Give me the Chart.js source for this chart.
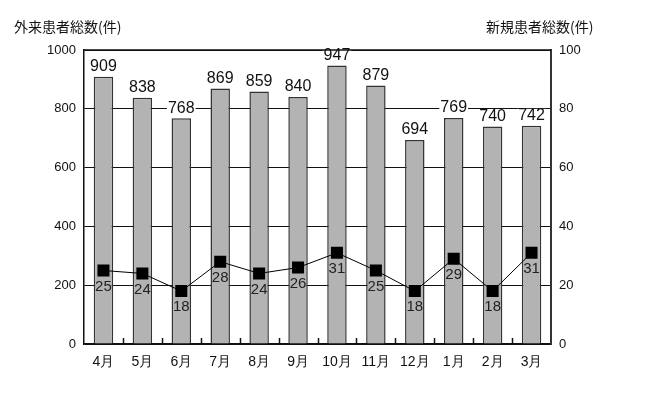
<!DOCTYPE html>
<html>
<head>
<meta charset="utf-8">
<script src="https://cdn.jsdelivr.net/npm/chart.js@4"></script>
<style>
  body { margin: 0; background: #fff; }
  #wrap { position: relative; width: 650px; height: 398px; }
  .ttl { position: absolute; top: 16px; font: 14px "Noto Sans CJK JP", sans-serif; color: #111; }
</style>
</head>
<body>
<div id="wrap">
  <div class="ttl" style="left:14px">外来患者総数(件)</div>
  <div class="ttl" style="left:486px">新規患者総数(件)</div>
  <canvas id="chart" width="650" height="398"></canvas>
</div>
<script>
// Monthly data
const months = ["4月", "5月", "6月", "7月", "8月", "9月", "10月", "11月", "12月", "1月", "2月", "3月"];
const outpatients = [909, 838, 768, 869, 859, 840, 947, 879, 694, 769, 740, 742];
const newPatients = [25, 24, 18, 28, 24, 26, 31, 25, 18, 29, 18, 31];
const leftTicks = [0, 200, 400, 600, 800, 1000];
const rightTicks = [0, 20, 40, 60, 80, 100];

const FONT = "'Liberation Sans Narrow', 'Liberation Sans', Arial, sans-serif";

// value labels + inward category ticks
const labelPlugin = {
  id: "labels",
  afterDatasetsDraw(chart) {
    const ctx = chart.ctx;
    const area = chart.chartArea;
    const xs = chart.scales.x;
    ctx.save();
    // small ticks between categories
    ctx.strokeStyle = "#111";
    ctx.lineWidth = 1.5;
    for (let i = 1; i < months.length; i++) {
      const x = Math.round((xs.getPixelForValue(i - 1) + xs.getPixelForValue(i)) / 2) + 0.5;
      ctx.beginPath();
      ctx.moveTo(x, area.bottom);
      ctx.lineTo(x, area.bottom - 6);
      ctx.stroke();
    }
    ctx.font = "16px " + FONT;
    ctx.textAlign = "center";
    ctx.textBaseline = "middle";
    chart.getDatasetMeta(1).data.forEach((bar, i) => {
      const txt = String(outpatients[i]);
      const w = ctx.measureText(txt).width;
      const y = bar.y - 10;
      ctx.fillStyle = "#fff";
      ctx.fillRect(bar.x - w / 2 - 1, y - 7, w + 2, 14);
      ctx.fillStyle = "#111";
      ctx.fillText(txt, bar.x, y);
    });
    ctx.font = "15px " + FONT;
    chart.getDatasetMeta(0).data.forEach((pt, i) => {
      ctx.fillStyle = "#222";
      ctx.fillText(String(newPatients[i]), pt.x, pt.y + 16);
    });
    ctx.restore();
  }
};

function initChart() {
  const ctx = document.getElementById("chart").getContext("2d");
  new Chart(ctx, {
    data: {
      labels: months,
      datasets: [
        {
          type: "line",
          data: newPatients,
          yAxisID: "y1",
          borderColor: "#000",
          borderWidth: 1,
          pointStyle: "rect",
          pointRadius: 8.5,
          pointBorderWidth: 0,
          pointBackgroundColor: "#000",
          pointBorderColor: "#000",
          order: 0
        },
        {
          type: "bar",
          data: outpatients,
          yAxisID: "y",
          backgroundColor: "#b3b3b3",
          borderColor: "#333",
          borderWidth: 1.5,
          barPercentage: 0.5,
          categoryPercentage: 1,
          order: 1
        }
      ]
    },
    options: {
      responsive: false,
      animation: false,
      layout: { padding: { top: 50, left: 0, right: 0, bottom: 0 } },
      plugins: { legend: { display: false }, tooltip: { enabled: false } },
      scales: {
        x: {
          grid: { display: false },
          border: { color: "#111", width: 1.5 },
          ticks: { color: "#111", font: { family: FONT, size: 14 }, padding: 2 },
          afterFit: s => { s.height = 54; }
        },
        y: {
          position: "left",
          min: 0, max: 1000,
          afterBuildTicks: s => { s.ticks = leftTicks.map(v => ({ value: v })); },
          grid: { color: "#111", lineWidth: 1, drawTicks: false },
          border: { color: "#111", width: 1.5 },
          ticks: { color: "#111", font: { family: FONT, size: 13 }, padding: 8, callback: v => String(v) },
          afterFit: s => { s.width = 84; }
        },
        y1: {
          position: "right",
          min: 0, max: 100,
          afterBuildTicks: s => { s.ticks = rightTicks.map(v => ({ value: v })); },
          grid: { display: false, drawTicks: false },
          border: { color: "#333", width: 2 },
          ticks: { color: "#111", font: { family: FONT, size: 13 }, padding: 8, callback: v => String(v) },
          afterFit: s => { s.width = 99; }
        }
      }
    },
    plugins: [labelPlugin, {
      id: "topLine",
      afterDraw(chart) {
        const c = chart.ctx, a = chart.chartArea;
        c.save();
        c.strokeStyle = "#111";
        c.lineWidth = 1.5;
        c.beginPath();
        c.moveTo(a.left, a.top);
        c.lineTo(a.right, a.top);
        c.stroke();
        c.restore();
      }
    }]
  });
}

document.addEventListener("DOMContentLoaded", initChart);
</script>
</body>
</html>
